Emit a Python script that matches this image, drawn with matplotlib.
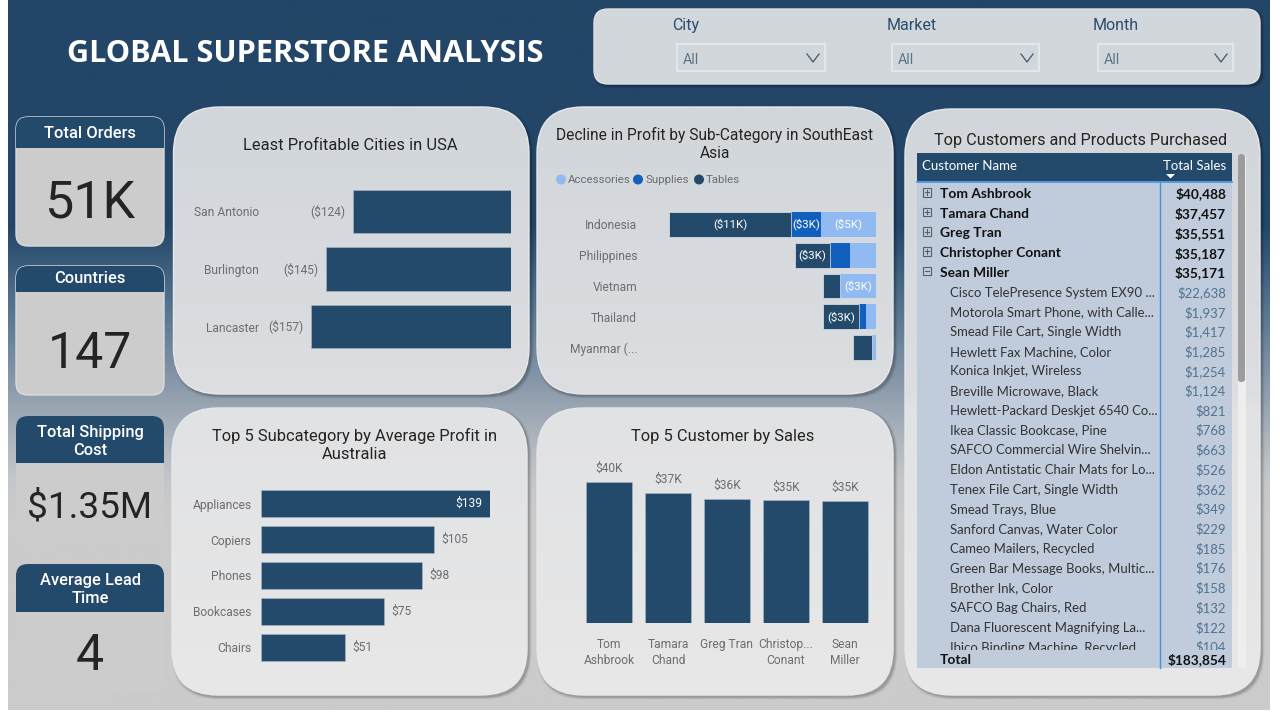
import numpy as np
import matplotlib
matplotlib.use('Agg')
from matplotlib import pyplot as plt
from matplotlib.colors import to_rgb
from matplotlib.patches import FancyBboxPatch, Rectangle, Circle, Polygon


# =============================================================================
# Chart values
# =============================================================================
cities = ['San Antonio', 'Burlington', 'Lancaster']
city_profit = [-124, -145, -157]

sea_countries = ['Indonesia', 'Philippines', 'Vietnam', 'Thailand', 'Myanmar (...']
sea_tables = [-11.1, -3.2, -1.5, -3.3, -1.65]
sea_supplies = [-2.7, -1.8, 0, -0.65, 0]
sea_accessories = [-5.0, -2.4, -3.3, -0.9, -0.4]
sea_table_labels = ['($11K)', '($3K)', '', '($3K)', '']
sea_supply_labels = ['($3K)', '', '', '', '']
sea_acc_labels = ['($5K)', '', '($3K)', '', '']

subcats = ['Appliances', 'Copiers', 'Phones', 'Bookcases', 'Chairs']
subcat_profit = [139, 105, 98, 75, 51]

top_customers = ['Tom\nAshbrook', 'Tamara\nChand', 'Greg Tran', 'Christop...\nConant',
    'Sean\nMiller']
top_sales = [40488, 37457, 35551, 35187, 35171]
top_labels = ['$40K', '$37K', '$36K', '$35K', '$35K']

kpi_titles = ['Total Orders', 'Countries', 'Total Shipping\nCost', 'Average Lead\nTime']
kpi_values = ['51K', '147', '$1.35M', '4']

slicer_names = ['City', 'Market', 'Month']

table_names = ['Tom Ashbrook', 'Tamara Chand', 'Greg Tran', 'Christopher Conant',
    'Sean Miller', 'Cisco TelePresence System EX90 ...',
    'Motorola Smart Phone, with Calle...', 'Smead File Cart, Single Width',
    'Hewlett Fax Machine, Color', 'Konica Inkjet, Wireless',
    'Breville Microwave, Black', 'Hewlett-Packard Deskjet 6540 Co...',
    'Ikea Classic Bookcase, Pine', 'SAFCO Commercial Wire Shelvin...',
    'Eldon Antistatic Chair Mats for Lo...', 'Tenex File Cart, Single Width',
    'Smead Trays, Blue', 'Sanford Canvas, Water Color', 'Cameo Mailers, Recycled',
    'Green Bar Message Books, Multic...', 'Brother Ink, Color',
    'SAFCO Bag Chairs, Red', 'Dana Fluorescent Magnifying La...',
    'Ibico Binding Machine, Recycled']
table_sales = ['$40,488', '$37,457', '$35,551', '$35,187', '$35,171', '$22,638',
    '$1,937', '$1,417', '$1,285', '$1,254', '$1,124', '$821', '$768', '$663', '$526',
    '$362', '$349', '$229', '$185', '$176', '$158', '$132', '$122', '$104']
table_total = '$183,854'


# =============================================================================
# Plot parameters
# =============================================================================
din = 'Roboto'
seg = 'Open Sans'
tab_font = 'Lato'
navy = '#234a6b'
grey_text = '#6b6d70'
dark_text = '#252423'
matplotlib.rcParams['font.family'] = din
W, H = 1280, 720

fig = plt.figure(figsize=(12.8, 7.2), dpi=100, facecolor='white')
base = fig.add_axes([0, 0, 1, 1])
base.axis('off')


def pt(px):
    # Text sizes are read in pixels off the picture
    return px * 0.72


def vgrad(stops, y0, y1):
    ys = np.arange(y0, y1 + 1)
    pos = [s[0] for s in stops]
    rgb = np.array([to_rgb(s[1]) for s in stops])
    out = np.stack([np.interp(ys, pos, rgb[:, i]) for i in range(3)], axis=1)
    return out[:, None, :]


def sub_axes(x0, y0, x1, y1):
    a = fig.add_axes([x0 / W, 1 - y1 / H, (x1 - x0) / W, (y1 - y0) / H])
    a.patch.set_alpha(0)
    for s in a.spines.values():
        s.set_visible(False)
    a.tick_params(length=0)
    return a


def txt(x, y, s, size, color=dark_text, ha='center', family=din, weight='normal', **kw):
    return base.text(x, y + 1.5, s, fontsize=pt(size), color=color, ha=ha, va='center',
        family=family, weight=weight, **kw)


def rounded(x0, y0, x1, y1, r, **kw):
    return FancyBboxPatch((x0, y0), x1 - x0, y1 - y0,
        boxstyle=f'round,pad=0,rounding_size={r}', **kw)


def shadow(x0, y0, x1, y1, r):
    for grow, a in [(2.5, .05), (1.5, .08), (0.7, .12)]:
        base.add_patch(rounded(x0 + 2 - grow, y0 + 2 - grow, x1 + 2 + grow, y1 + 2 + grow,
            r, fc='black', ec='none', alpha=a))


panel_stops = [(100, '#d1d6da'), (394, '#dcdee1'), (410, '#e1e2e4'), (700, '#e8e8e8')]


def panel(x0, y0, x1, y1, r):
    shadow(x0, y0, x1, y1, r)
    im = base.imshow(vgrad(panel_stops, y0, y1), extent=[x0, x1, y1, y0], aspect='auto',
        zorder=1)
    p = rounded(x0, y0, x1, y1, r, fc='none', ec='#e6e8ea', lw=1, zorder=1.5)
    base.add_patch(p)
    im.set_clip_path(p)


# =============================================================================
# Page background
# =============================================================================
bg_stops = [(0, '#234668'), (225, '#234668'), (300, '#50708c'), (390, '#8d9cac'),
    (440, '#aeb6be'), (480, '#c4c7ca'), (520, '#cbcbcb'), (710, '#cbcbcb')]
base.imshow(vgrad(bg_stops, 0, 710), extent=[8, 1270, 710, 0], aspect='auto', zorder=0)

txt(305, 53, 'GLOBAL SUPERSTORE ANALYSIS', 30.7, color='white', family=seg, weight='bold', zorder=3)


# =============================================================================
# Slicers
# =============================================================================
shadow(594, 9, 1260, 84, 14)
base.add_patch(rounded(594, 9, 1260, 84, 14, fc='#d2d7db', ec='#dfe2e5', lw=1, zorder=1))
slicer_label_x = [686, 912, 1116]
slicer_box = [(677, 825), (892, 1039), (1098, 1233)]
for name, lx, (bx0, bx1) in zip(slicer_names, slicer_label_x, slicer_box):
    txt(lx, 24, name, 16, color='#2b4d6e', zorder=3)
    base.add_patch(Rectangle((bx0, 44), bx1 - bx0, 27, fc='none', ec='#e4e7e9', lw=1.5, zorder=2))
    txt(bx0 + 6, 58, 'All', 14, color='#5d7186', ha='left', zorder=3)
    base.plot([bx1 - 18, bx1 - 12, bx1 - 6], [54, 62, 54], color='#40566e', lw=.9, zorder=3)


# =============================================================================
# KPI cards
# =============================================================================
kpi_boxes = [(117, 148, 246), (266, 292, 395), (416, 463, 545), (564, 612, 692)]
kpi_title_y = [132.5, 277, 440, 588]
kpi_value_y = [202, 352, 506, 655]
kpi_value_size = [52, 50, 37, 50]
kpi_edge = ['#d9dcdf', '#d9dcdf', 'none', 'none']
for i, (top, mid, bot) in enumerate(kpi_boxes):
    body = rounded(16, top, 164, bot, 12, fc='#cccccc', ec=kpi_edge[i], lw=1, zorder=1)
    base.add_patch(body)
    head = Rectangle((16, top), 148, mid - top, fc=navy, ec='none', zorder=2)
    base.add_patch(head)
    head.set_clip_path(body)
    txt(90, kpi_title_y[i], kpi_titles[i], 16.5, color='white', zorder=3, linespacing=1.3,
        weight=500)
    txt(90, kpi_value_y[i], kpi_values[i], kpi_value_size[i], color=dark_text, zorder=3)


# =============================================================================
# Chart panels
# =============================================================================
panel(173.5, 107, 529, 394, 46)
panel(537, 107, 893, 394, 46)
panel(172, 408, 527, 695, 46)
panel(537, 408, 893, 695, 46)
panel(905, 109, 1260, 695, 46)

txt(350, 144, 'Least Profitable Cities in USA', 16.5, zorder=3)
txt(715, 142.5, 'Decline in Profit by Sub-Category in SouthEast\nAsia', 15.5, zorder=3, linespacing=1.3)
txt(355, 443.5, 'Top 5 Subcategory by Average Profit in\nAustralia', 16.5, zorder=3, linespacing=1.3)
txt(723, 434.5, 'Top 5 Customer by Sales', 16.5, zorder=3)
txt(1081, 139.5, 'Top Customers and Products Purchased', 16.3, zorder=3)


# =============================================================================
# Least profitable cities
# =============================================================================
ax = sub_axes(262, 182.75, 511, 355.25)
ax.barh(range(3), city_profit, height=.75, color=navy, edgecolor='#a9bacb', linewidth=.4)
ax.set_xlim(-195.5, 0)
ax.set_ylim(2.5, -.5)
ax.set_xticks([])
ax.set_yticks(range(3), cities, fontsize=pt(12), color=grey_text)
ax.tick_params(axis='y', pad=2)
for i, v in enumerate(city_profit):
    ax.annotate(f'(${-v})', (v, i), xytext=(-5.5, 0), textcoords='offset points',
        ha='right', va='center', fontsize=pt(12), color=grey_text)


# =============================================================================
# Southeast Asia stacked bars
# =============================================================================
sea_colors = {'acc': '#91b9f2', 'sup': '#1160bd', 'tab': '#234a6b'}
ax = sub_axes(640, 209, 876, 363)
acc = np.array(sea_accessories)
sup = np.array(sea_supplies)
tab = np.array(sea_tables)
ypos = np.arange(5)
ax.barh(ypos, acc, height=.81, color=sea_colors['acc'])
ax.barh(ypos, sup, left=acc, height=.81, color=sea_colors['sup'])
ax.barh(ypos, tab, left=acc + sup, height=.81, color=sea_colors['tab'], edgecolor='#dfe6ee',
    linewidth=.5)
ax.set_xlim(-21.45, 0)
ax.set_ylim(4.5, -.5)
ax.set_xticks([])
ax.set_yticks(ypos, sea_countries, fontsize=pt(12), color=grey_text)
ax.tick_params(axis='y', pad=2)
for i in ypos:
    if sea_acc_labels[i]:
        ax.text(acc[i] / 2, i, sea_acc_labels[i], ha='center', va='center', color='white',
            fontsize=pt(11.5))
    if sea_supply_labels[i]:
        ax.text(acc[i] + sup[i] / 2, i, sea_supply_labels[i], ha='center', va='center',
            color='white', fontsize=pt(11.5))
    if sea_table_labels[i]:
        ax.text(acc[i] + sup[i] + tab[i] / 2, i, sea_table_labels[i], ha='center', va='center',
            color='white', fontsize=pt(11.5))

for cx, tx, label, key in [(561, 568, 'Accessories', 'acc'), (638, 645, 'Supplies', 'sup'),
        (699, 706, 'Tables', 'tab')]:
    base.add_patch(Circle((cx, 179.5), 5, fc=sea_colors[key], ec='none', zorder=3))
    txt(tx, 178.5, label, 11.5, color=grey_text, ha='left', zorder=3)


# =============================================================================
# Top subcategories in Australia
# =============================================================================
ax = sub_axes(260.5, 485.5, 489.7, 665.5)
ax.barh(range(5), subcat_profit, height=.767, color=navy, edgecolor='#a9bacb', linewidth=.4)
ax.set_xlim(0, 139)
ax.set_ylim(4.5, -.5)
ax.set_xticks([])
ax.set_yticks(range(5), subcats, fontsize=pt(12), color=grey_text)
ax.tick_params(axis='y', pad=6.5)
for i, v in enumerate(subcat_profit):
    if i == 0:
        ax.annotate(f'${v}', (v, i), xytext=(-5.5, 0), textcoords='offset points', ha='right',
            va='center', fontsize=pt(12), color='white')
    else:
        ax.annotate(f'${v}', (v, i), xytext=(5.5, 0), textcoords='offset points', ha='left',
            va='center', fontsize=pt(12), color=grey_text)


# =============================================================================
# Top customers by sales
# =============================================================================
ax = sub_axes(579.5, 482, 874.5, 623)
ax.bar(range(5), top_sales, width=.78, color=navy, edgecolor='#a9bacb', linewidth=.4)
ax.set_xlim(-.5, 4.5)
ax.set_ylim(0, 40488)
ax.set_yticks([])
ax.set_xticks(range(5), top_customers, fontsize=pt(12), color=grey_text, linespacing=1.35)
ax.tick_params(axis='x', pad=10.5)
for i, v in enumerate(top_sales):
    ax.annotate(top_labels[i], (i, v), xytext=(0, 5), textcoords='offset points', ha='center',
        va='bottom', fontsize=pt(12), color=grey_text, annotation_clip=False)


# =============================================================================
# Table
# =============================================================================
base.add_patch(Rectangle((917, 153), 315, 515, fc='#c0cbdc', ec='none', zorder=2))
base.add_patch(Rectangle((917, 153), 315, 28, fc=navy, ec='none', zorder=2.1))
base.plot([917, 1232], [181.5, 181.5], color='#3f8fe0', lw=1.2, zorder=2.2)
base.plot([1160, 1160], [182, 668], color='#4a8fd8', lw=1, zorder=2.2)
txt(922, 164, 'Customer Name', 13.2, color='white', ha='left', family=tab_font, zorder=3)
txt(1226, 164, 'Total Sales', 13.2, color='white', ha='right', family=tab_font, zorder=3)
base.add_patch(Polygon([[1166, 174], [1175, 174], [1170.5, 178.5]], fc='white', ec='none', zorder=3))

# Scrollbar
base.add_patch(rounded(1238, 154, 1246, 668, 3, fc='#eeeeee', ec='none', zorder=2))
base.add_patch(rounded(1238, 154, 1245, 382, 3, fc='#9c9c9c', ec='none', zorder=2.1))

row_clip = Rectangle((917, 182), 315, 468, transform=base.transData)
row_y = 192.5
row_step = 19.72
for i, (name, sale) in enumerate(zip(table_names, table_sales)):
    y = row_y + i * row_step
    top_level = i < 5
    size = 13.8 if top_level else 13.1
    t1 = txt(940 if top_level else 950, y, name, size, color='#111111' if top_level else '#333333',
        ha='left', family=tab_font, weight='bold' if top_level else 'normal', zorder=3)
    t2 = txt(1226, y, sale, size, color='#111111' if top_level else '#4f7390',
        ha='right', family=tab_font, weight='bold' if top_level else 'normal', zorder=3)
    for t in (t1, t2):
        t.set_clip_on(True)
        t.set_clip_path(row_clip)
    if top_level:
        base.add_patch(Rectangle((922.5, y - 4.5), 8.5, 8.5, fc='none', ec='#5a5f66', lw=.8, zorder=3))
        base.plot([924.5, 929], [y - .25, y - .25], color='#5a5f66', lw=.8, zorder=3)
        if i < 4:
            base.plot([926.75, 926.75], [y - 2.5, y + 2], color='#5a5f66', lw=.8, zorder=3)

txt(940, 658.5, 'Total', 13.8, color='#111111', ha='left', family=tab_font, weight='bold', zorder=3)
txt(1226, 658.5, table_total, 13.8, color='#111111', ha='right', family=tab_font, weight='bold', zorder=3)

base.set_xlim(0, W)
base.set_ylim(H, 0)
fig.savefig('out.png', dpi=100)
